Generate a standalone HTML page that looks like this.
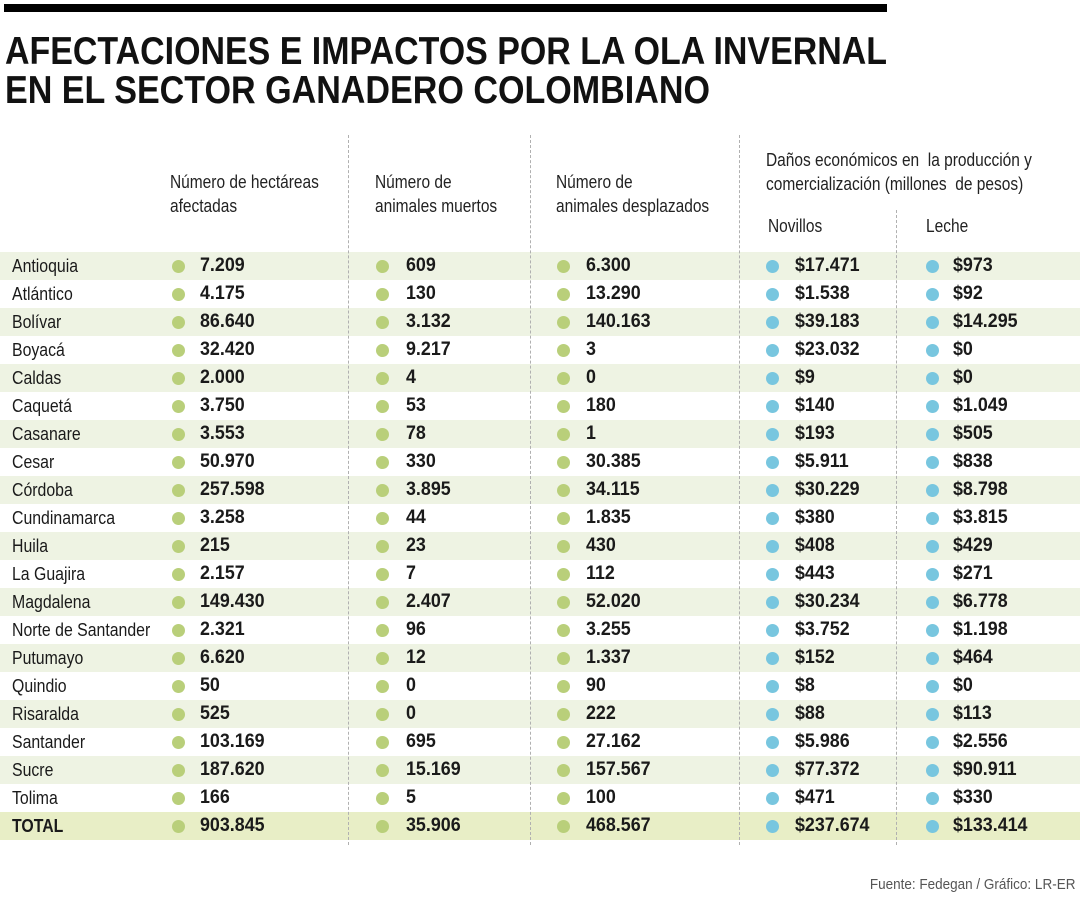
<!DOCTYPE html>
<html><head><meta charset="utf-8"><style>
body{margin:0;width:1080px;height:900px;background:#fff;position:relative;overflow:hidden;font-family:"Liberation Sans",sans-serif;color:#1a1a1a}
.r{position:absolute;left:0;width:1080px;height:28px}
.r.s{background:#eef3e3}
.r.t{background:#e8eec6}
.n{position:absolute;top:4px;font-size:18px;line-height:20px;white-space:nowrap;transform:scaleX(.88);transform-origin:0 50%}
.v{position:absolute;top:3px;font-size:19px;line-height:22px;font-weight:bold;white-space:nowrap;transform:scaleX(.94);transform-origin:0 50%}
.d{position:absolute;top:8px;width:13px;height:13px;border-radius:50%;background:#b9cf7a}
.d.b{background:#78c6df}
.h{position:absolute;font-size:18px;line-height:24px;color:#222;white-space:nowrap;transform:scaleX(.86);transform-origin:0 0}
.dl{position:absolute;width:0;border-left:1.5px dashed #b0b0b0}
</style></head><body>
<div style="position:absolute;left:4px;top:4px;width:883px;height:8px;background:#000"></div>
<svg style="position:absolute;left:0;top:0" width="1080" height="120">
<text x="5" y="64" font-family="Liberation Sans" font-weight="bold" font-size="39" textLength="882" lengthAdjust="spacingAndGlyphs" fill="#111">AFECTACIONES E IMPACTOS POR LA OLA INVERNAL</text>
<text x="5" y="103" font-family="Liberation Sans" font-weight="bold" font-size="39" textLength="705" lengthAdjust="spacingAndGlyphs" fill="#111">EN EL SECTOR GANADERO COLOMBIANO</text>
</svg>
<div class="h" style="left:170px;top:170px">Número de hectáreas<br>afectadas</div>
<div class="h" style="left:375px;top:170px">Número de<br>animales muertos</div>
<div class="h" style="left:556px;top:170px">Número de<br>animales desplazados</div>
<div class="h" style="left:766px;top:148px">Daños económicos en &nbsp;la producción y<br>comercialización (millones &nbsp;de pesos)</div>
<div class="h" style="left:768px;top:214px">Novillos</div>
<div class="h" style="left:926px;top:214px">Leche</div>
<div id="rows"></div>
<div class="dl" style="left:348px;top:135px;height:710px"></div>
<div class="dl" style="left:530px;top:135px;height:710px"></div>
<div class="dl" style="left:739px;top:135px;height:710px"></div>
<div class="dl" style="left:896px;top:210px;height:635px"></div>
<div style="position:absolute;right:5px;top:876px;font-size:15px;color:#555;transform:scaleX(.9);transform-origin:100% 0">Fuente: Fedegan / Gráfico: LR-ER</div>
<script>
var data=[["Antioquia","7.209","609","6.300","$17.471","$973"],["Atlántico","4.175","130","13.290","$1.538","$92"],["Bolívar","86.640","3.132","140.163","$39.183","$14.295"],["Boyacá","32.420","9.217","3","$23.032","$0"],["Caldas","2.000","4","0","$9","$0"],["Caquetá","3.750","53","180","$140","$1.049"],["Casanare","3.553","78","1","$193","$505"],["Cesar","50.970","330","30.385","$5.911","$838"],["Córdoba","257.598","3.895","34.115","$30.229","$8.798"],["Cundinamarca","3.258","44","1.835","$380","$3.815"],["Huila","215","23","430","$408","$429"],["La Guajira","2.157","7","112","$443","$271"],["Magdalena","149.430","2.407","52.020","$30.234","$6.778"],["Norte de Santander","2.321","96","3.255","$3.752","$1.198"],["Putumayo","6.620","12","1.337","$152","$464"],["Quindio","50","0","90","$8","$0"],["Risaralda","525","0","222","$88","$113"],["Santander","103.169","695","27.162","$5.986","$2.556"],["Sucre","187.620","15.169","157.567","$77.372","$90.911"],["Tolima","166","5","100","$471","$330"],["TOTAL","903.845","35.906","468.567","$237.674","$133.414"]];
var dx=[172,376,557,766,926],vx=[200,406,586,795,953],h="";
data.forEach(function(r,i){var c=i==20?"r t":(i%2==0?"r s":"r");
h+='<div class="'+c+'" style="top:'+(252+28*i)+'px">';
h+='<div class="n" style="left:12px'+(i==20?';font-weight:bold':'')+'">'+r[0]+'</div>';
for(var k=0;k<5;k++){h+='<div class="d'+(k>2?' b':'')+'" style="left:'+dx[k]+'px"></div><div class="v" style="left:'+vx[k]+'px">'+r[k+1]+'</div>';}
h+='</div>';});
document.getElementById("rows").innerHTML=h;
</script>
</body></html>
